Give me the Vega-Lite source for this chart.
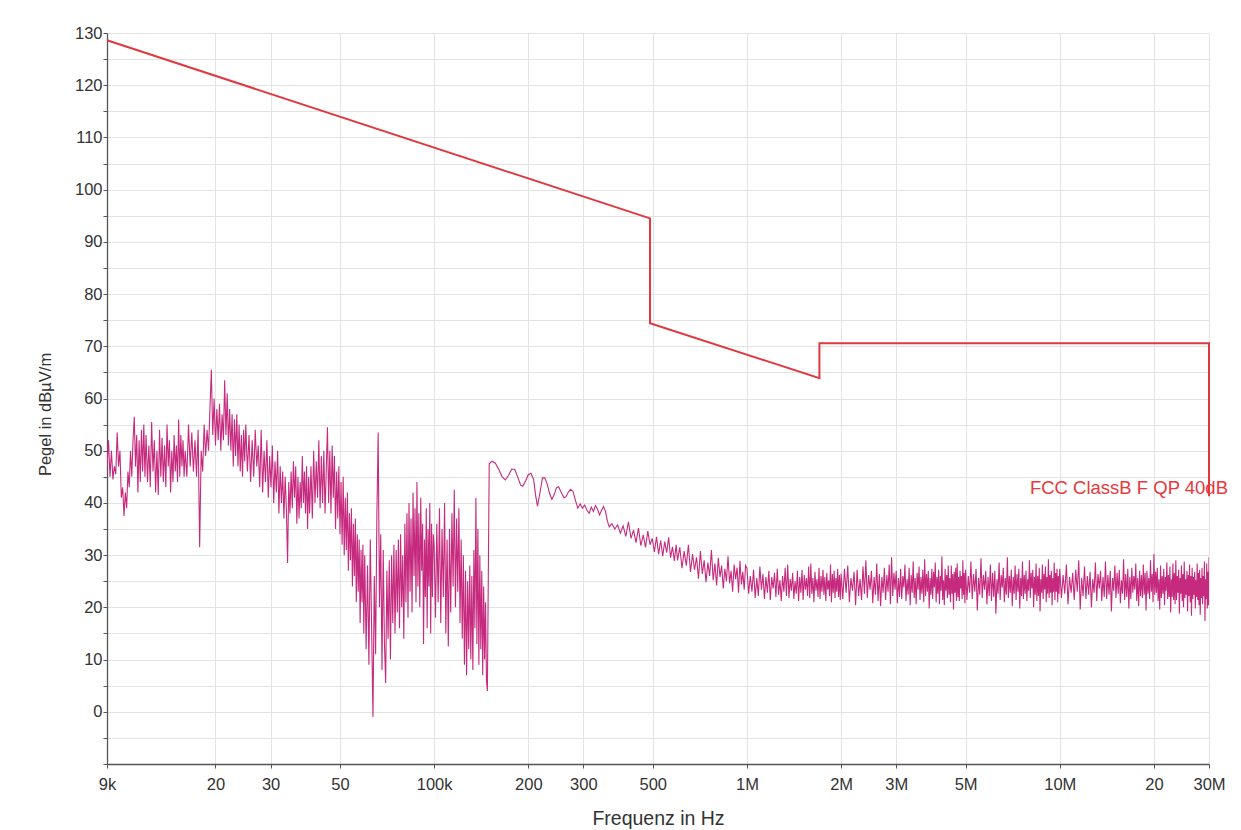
{
  "$schema": "https://vega.github.io/schema/vega-lite/v6.json",
  "width": 1102,
  "height": 731,
  "autosize": {"type": "none"},
  "padding": {"left": 107, "top": 33, "right": 32, "bottom": 66},
  "background": "white",
  "config": {"view": {"stroke": null}, "font": "Liberation Sans"},
  "datasets": {
    "meas": [
      {"f":9000,"v":47},{"f":9100,"v":52},{"f":9200,"v":45},{"f":9300,"v":50},{"f":9400,"v":44.5},{"f":9500,"v":47},{"f":9600,"v":45.5},{"f":9700,"v":53.5},{"f":9800,"v":47},{"f":9900,"v":50},{"f":10000,"v":41},{"f":10100,"v":43},{"f":10200,"v":37.5},{"f":10300,"v":42},{"f":10400,"v":39},{"f":10500,"v":46},{"f":10600,"v":43},{"f":10700,"v":50},{"f":10800,"v":45},{"f":10900,"v":52},{"f":11000,"v":56.5},{"f":11100,"v":47},{"f":11200,"v":53},{"f":11300,"v":42},{"f":11400,"v":52},{"f":11500,"v":44},{"f":11600,"v":54},{"f":11700,"v":46},{"f":11800,"v":55},{"f":11900,"v":45},
      {"f":12000,"v":53},{"f":12125,"v":44},{"f":12250,"v":51},{"f":12375,"v":43},{"f":12500,"v":55.5},{"f":12625,"v":46},{"f":12750,"v":52},{"f":12875,"v":42},{"f":13000,"v":50},{"f":13125,"v":41.5},{"f":13250,"v":54},{"f":13375,"v":45},{"f":13500,"v":52.5},{"f":13625,"v":44},{"f":13750,"v":51},{"f":13875,"v":43},{"f":14000,"v":55},{"f":14125,"v":47},{"f":14250,"v":52},{"f":14375,"v":42},{"f":14500,"v":50},{"f":14625,"v":44},{"f":14750,"v":53},{"f":14875,"v":46},{"f":15000,"v":51},{"f":15125,"v":44},{"f":15250,"v":56},{"f":15375,"v":45},{"f":15500,"v":53},{"f":15625,"v":47},{"f":15750,"v":52},{"f":15875,"v":45},
      {"f":16000,"v":50},{"f":16200,"v":45},{"f":16400,"v":55},{"f":16600,"v":47},{"f":16800,"v":53.5},{"f":17000,"v":46},{"f":17200,"v":52},{"f":17400,"v":45},{"f":17600,"v":54},{"f":17800,"v":31.5},{"f":18000,"v":50},{"f":18200,"v":46},{"f":18400,"v":55},{"f":18600,"v":49},{"f":18800,"v":54},{"f":19000,"v":50},{"f":19200,"v":58},{"f":19400,"v":65.5},{"f":19600,"v":53},{"f":19800,"v":60},{"f":20000,"v":51},{"f":20200,"v":58},{"f":20400,"v":52},{"f":20600,"v":59},{"f":20800,"v":50},{"f":21000,"v":57},{"f":21200,"v":52},{"f":21400,"v":63.5},{"f":21600,"v":53},{"f":21800,"v":61},{"f":22000,"v":51},{"f":22200,"v":58},{"f":22400,"v":50},{"f":22600,"v":57},{"f":22800,"v":47},{"f":23000,"v":56},{"f":23200,"v":49},{"f":23400,"v":57},{"f":23600,"v":47},{"f":23800,"v":55},{"f":24000,"v":46},{"f":24200,"v":53},{"f":24400,"v":45},{"f":24600,"v":54},{"f":24800,"v":48},
      {"f":25000,"v":55},{"f":25300,"v":46},{"f":25600,"v":53},{"f":25900,"v":44},{"f":26200,"v":52},{"f":26500,"v":45},{"f":26800,"v":54},{"f":27100,"v":47},{"f":27400,"v":51},{"f":27700,"v":43},{"f":28000,"v":54},{"f":28300,"v":42},{"f":28600,"v":50},{"f":28900,"v":44},{"f":29200,"v":52},{"f":29500,"v":41},{"f":29800,"v":49},{"f":30100,"v":43},{"f":30400,"v":51},{"f":30700,"v":40},{"f":31000,"v":48},{"f":31300,"v":42},{"f":31600,"v":50},{"f":31900,"v":38},{"f":32200,"v":47},{"f":32500,"v":40},{"f":32800,"v":46},{"f":33100,"v":37},{"f":33400,"v":45},{"f":33700,"v":39},{"f":34000,"v":28.5},{"f":34300,"v":44},{"f":34600,"v":38},{"f":34900,"v":46},{"f":35200,"v":39},{"f":35500,"v":48},{"f":35800,"v":41},{"f":36100,"v":47},{"f":36400,"v":36},{"f":36700,"v":45},{"f":37000,"v":37},{"f":37300,"v":44},{"f":37600,"v":39},{"f":37900,"v":49},{"f":38200,"v":40},{"f":38500,"v":46},{"f":38800,"v":38},{"f":39100,"v":47},{"f":39400,"v":35},{"f":39700,"v":45},
      {"f":40000,"v":38},{"f":40400,"v":47},{"f":40800,"v":37},{"f":41200,"v":50},{"f":41600,"v":40},{"f":42000,"v":48},{"f":42400,"v":41},{"f":42800,"v":52},{"f":43200,"v":39},{"f":43600,"v":49},{"f":44000,"v":40},{"f":44400,"v":50},{"f":44800,"v":38},
      {"f":45600,"v":54.5},{"f":46000,"v":40},{"f":46400,"v":50},{"f":46800,"v":38},{"f":47200,"v":51},{"f":47600,"v":41},{"f":48000,"v":49},{"f":48400,"v":35},{"f":48800,"v":46},{"f":49200,"v":37},{"f":49600,"v":47},{"f":50000,"v":34},{"f":50400,"v":44},{"f":50800,"v":32},{"f":51200,"v":45},{"f":51600,"v":30},{"f":52000,"v":41},{"f":52400,"v":31},{"f":52800,"v":42},{"f":53200,"v":27},{"f":53600,"v":38},{"f":54000,"v":29},{"f":54400,"v":39},{"f":54800,"v":24},{"f":55200,"v":36},{"f":55600,"v":26},{"f":56000,"v":37},{"f":56400,"v":21},{"f":56800,"v":34},{"f":57200,"v":23},{"f":57600,"v":33},{"f":58000,"v":17},{"f":58400,"v":31},{"f":58800,"v":21},{"f":59200,"v":32},{"f":59600,"v":15},
      {"f":60000,"v":30},{"f":60625,"v":12},{"f":61250,"v":28},{"f":61875,"v":9},{"f":62500,"v":33},{"f":63125,"v":16},{"f":63750,"v":-1},{"f":64375,"v":26},{"f":65000,"v":11},{"f":65625,"v":38},{"f":66250,"v":53.5},{"f":66875,"v":20},{"f":67500,"v":34},{"f":68125,"v":8},{"f":68750,"v":31},{"f":69375,"v":13},{"f":70000,"v":5.5},{"f":70625,"v":27},{"f":71250,"v":14},{"f":71875,"v":29},{"f":72500,"v":10},{"f":73125,"v":30},{"f":73750,"v":17},{"f":74375,"v":32},{"f":75000,"v":15},{"f":75625,"v":31},{"f":76250,"v":19},{"f":76875,"v":33},{"f":77500,"v":16},{"f":78125,"v":34},{"f":78750,"v":20},{"f":79375,"v":30},{"f":80000,"v":14},{"f":80625,"v":36},{"f":81250,"v":21},{"f":81875,"v":38},{"f":82500,"v":18},{"f":83125,"v":40},{"f":83750,"v":23},{"f":84375,"v":37},{"f":85000,"v":19},{"f":85625,"v":42},{"f":86250,"v":26},{"f":86875,"v":39},{"f":87500,"v":21},{"f":88125,"v":44},{"f":88750,"v":24},{"f":89375,"v":38},{"f":90000,"v":20},{"f":90625,"v":41},{"f":91250,"v":27},{"f":91875,"v":36},{"f":92500,"v":13},{"f":93125,"v":33},{"f":93750,"v":22},{"f":94375,"v":39},{"f":95000,"v":16},{"f":95625,"v":35},{"f":96250,"v":24},{"f":96875,"v":40},{"f":97500,"v":15},{"f":98125,"v":36},{"f":98750,"v":22},{"f":99375,"v":34},
      {"f":100000,"v":32},{"f":101000,"v":18},{"f":102000,"v":36},{"f":103000,"v":21},{"f":104000,"v":39},{"f":105000,"v":17},{"f":106000,"v":35},{"f":107000,"v":22},{"f":108000,"v":40},{"f":109000,"v":15},{"f":110000,"v":33},{"f":111000,"v":12.5},{"f":112000,"v":35},{"f":113000,"v":19},{"f":114000,"v":38},{"f":115000,"v":24},{"f":116000,"v":42.5},{"f":117000,"v":20},{"f":118000,"v":37},{"f":119000,"v":23},{"f":120000,"v":39},{"f":121000,"v":17},{"f":122000,"v":33},{"f":123000,"v":14},{"f":124000,"v":30},{"f":125000,"v":9},{"f":126000,"v":27},{"f":127000,"v":7},{"f":128000,"v":25},{"f":129000,"v":12},{"f":130000,"v":28},{"f":131000,"v":10},{"f":132000,"v":26},{"f":133000,"v":8},{"f":134000,"v":31},{"f":135000,"v":16},{"f":136000,"v":41},{"f":137000,"v":13},{"f":138000,"v":35},{"f":139000,"v":9},{"f":140000,"v":30},{"f":141000,"v":12},{"f":142000,"v":27},{"f":143000,"v":7},{"f":144000,"v":24},{"f":145000,"v":10},{"f":146000,"v":21},{"f":147000,"v":6},{"f":148000,"v":4},
      {"f":150000,"v":47.5},{"f":153000,"v":48},{"f":157000,"v":47.6},{"f":161000,"v":46.4},{"f":165000,"v":45},{"f":169000,"v":44.4},{"f":173000,"v":45.3},{"f":177000,"v":46.5},{"f":181000,"v":46.4},{"f":185000,"v":45},{"f":189000,"v":43.4},{"f":192000,"v":43.2},{"f":196000,"v":44.2},{"f":200000,"v":45.4},{"f":204000,"v":45.7},{"f":208000,"v":44.5},{"f":211000,"v":41.5},{"f":214000,"v":39.4},{"f":218000,"v":42},{"f":222000,"v":44.8},{"f":226000,"v":44.8},{"f":230000,"v":43.5},{"f":234000,"v":41.8},{"f":238000,"v":40.7},{"f":242000,"v":41.6},{"f":246000,"v":42.9},{"f":250000,"v":43.1},{"f":255000,"v":42},{"f":260000,"v":41},{"f":264000,"v":41.2},{"f":268000,"v":42},{"f":273000,"v":42.6},{"f":278000,"v":42.2},{"f":283000,"v":40.5},{"f":288000,"v":39},{"f":293000,"v":39.8},{"f":298000,"v":39},{"f":303000,"v":39.6},{"f":308000,"v":38.6},{"f":313000,"v":38},{"f":318000,"v":39.2},{"f":323000,"v":38.4},{"f":328000,"v":39.5},{"f":333000,"v":38.8},{"f":338000,"v":37.7},{"f":343000,"v":38.6},{"f":348000,"v":39.3},{"f":353000,"v":38.4},{"f":358000,"v":36.5},{"f":363000,"v":35.4},
      {"f":370000,"v":36},{"f":378000,"v":35},{"f":386000,"v":35.8},{"f":394000,"v":34.2},{"f":402000,"v":35.6},{"f":410000,"v":33.6},{"f":418000,"v":36.4},{"f":426000,"v":33.2},{"f":434000,"v":34.8},{"f":442000,"v":32.4},{"f":450000,"v":35.2},{"f":458000,"v":31.8},{"f":466000,"v":33.9},{"f":474000,"v":31.5},{"f":482000,"v":34.6},{"f":490000,"v":32},{"f":498000,"v":33.2},{"f":506000,"v":30.6},{"f":514000,"v":33.5},{"f":522000,"v":30.2},{"f":530000,"v":32.8},{"f":538000,"v":29.8},{"f":546000,"v":32.6},{"f":554000,"v":30.5},{"f":562000,"v":33.4},{"f":570000,"v":29.5},{"f":578000,"v":31.6},{"f":586000,"v":28.9},{"f":594000,"v":32},
      {"f":600000,"v":29},{"f":610000,"v":31.5},{"f":620000,"v":27.5},{"f":630000,"v":30.8},{"f":640000,"v":28},{"f":650000,"v":32},{"f":660000,"v":26.8},{"f":670000,"v":30.2},{"f":680000,"v":27.2},{"f":690000,"v":29.6},{"f":700000,"v":25.5},{"f":710000,"v":30.8},{"f":720000,"v":26.4},{"f":730000,"v":29},{"f":740000,"v":24.8},{"f":750000,"v":28.6},{"f":760000,"v":26},{"f":770000,"v":31},{"f":780000,"v":25.2},{"f":790000,"v":28.4},{"f":800000,"v":24.2},{"f":810000,"v":29.5},{"f":820000,"v":25.8},{"f":830000,"v":28},{"f":840000,"v":23.6},{"f":850000,"v":27.4},{"f":860000,"v":25},{"f":870000,"v":29.8},{"f":880000,"v":24.6},{"f":890000,"v":27},{"f":900000,"v":23},{"f":910000,"v":28.2},{"f":920000,"v":25.4},{"f":930000,"v":27.6},{"f":940000,"v":22.8},{"f":950000,"v":28.9},{"f":960000,"v":24.4},{"f":970000,"v":26.8},{"f":980000,"v":23.4},{"f":990000,"v":28},
      {"f":1000000,"v":27.5},{"f":1012500,"v":22.6},{"f":1025000,"v":26},{"f":1037500,"v":23},{"f":1050000,"v":27.2},{"f":1062500,"v":21.8},{"f":1075000,"v":25.6},{"f":1087500,"v":22.2},{"f":1100000,"v":27.8},{"f":1112500,"v":23.4},{"f":1125000,"v":26.4},{"f":1137500,"v":21.6},{"f":1150000,"v":25.8},{"f":1162500,"v":22.8},{"f":1175000,"v":27},{"f":1187500,"v":21.4},{"f":1200000,"v":25.8},{"f":1212500,"v":23.6},{"f":1225000,"v":26.6},{"f":1237500,"v":22},{"f":1250000,"v":27.4},{"f":1262500,"v":22.4},{"f":1275000,"v":25.2},{"f":1287500,"v":21.2},{"f":1300000,"v":26},{"f":1312500,"v":23},{"f":1325000,"v":27.6},{"f":1337500,"v":22.2},{"f":1350000,"v":28.2},{"f":1362500,"v":21.8},{"f":1375000,"v":25.4},{"f":1387500,"v":23.2},{"f":1400000,"v":26.6},{"f":1412500,"v":21.6},{"f":1425000,"v":25},{"f":1437500,"v":22.6},{"f":1450000,"v":27},{"f":1462500,"v":21.2},{"f":1475000,"v":25.8},{"f":1487500,"v":22.8},{"f":1500000,"v":27.2},{"f":1512500,"v":21.4},{"f":1525000,"v":26.2},{"f":1537500,"v":23.4},{"f":1550000,"v":25.6},{"f":1562500,"v":22.2},{"f":1575000,"v":27.8},{"f":1587500,"v":21.8},{"f":1600000,"v":28.4},{"f":1612500,"v":22.6},{"f":1625000,"v":25.6},{"f":1637500,"v":21},{"f":1650000,"v":26.8},{"f":1662500,"v":23.2},{"f":1675000,"v":25.4},{"f":1687500,"v":22},{"f":1700000,"v":27.6},{"f":1712500,"v":21.6},{"f":1725000,"v":26},{"f":1737500,"v":23},{"f":1750000,"v":27.2},{"f":1762500,"v":22.4},{"f":1775000,"v":25.8},{"f":1787500,"v":21.2},{"f":1800000,"v":26.6},{"f":1812500,"v":23.4},{"f":1825000,"v":25.2},{"f":1837500,"v":22.2},{"f":1850000,"v":28.2},{"f":1862500,"v":21},{"f":1875000,"v":26.4},{"f":1887500,"v":22.8},{"f":1900000,"v":27},{"f":1912500,"v":21.8},{"f":1925000,"v":25.6},{"f":1937500,"v":23},{"f":1950000,"v":27.4},{"f":1962500,"v":22},{"f":1975000,"v":26.2},{"f":1987500,"v":21.4},
      {"f":2000000,"v":26.5},{"f":2025000,"v":21.6},{"f":2050000,"v":27.4},{"f":2075000,"v":22.8},{"f":2100000,"v":28},{"f":2125000,"v":21},{"f":2150000,"v":25.6},{"f":2175000,"v":23.2},{"f":2200000,"v":26.8},{"f":2225000,"v":20.4},
      {"f":2250000,"v":27.2},{"f":2275000,"v":22.2},{"f":2300000,"v":25.4},{"f":2325000,"v":21.4},{"f":2350000,"v":27.8},{"f":2375000,"v":22.6},{"f":2400000,"v":29},{"f":2425000,"v":21.8},{"f":2450000,"v":26.2},{"f":2475000,"v":23.4},
      {"f":2500000,"v":27},{"f":2525000,"v":20.8},{"f":2550000,"v":25.8},{"f":2575000,"v":22.4},{"f":2600000,"v":28.4},{"f":2625000,"v":21.2},{"f":2650000,"v":26.4},{"f":2675000,"v":20.2},{"f":2700000,"v":25.8},{"f":2725000,"v":22.8},
      {"f":2750000,"v":27.6},{"f":2775000,"v":21.4},{"f":2800000,"v":26.2},{"f":2825000,"v":23},{"f":2850000,"v":28.2},{"f":2875000,"v":20.6},{"f":2900000,"v":29.6},{"f":2925000,"v":22.2},{"f":2950000,"v":26.6},{"f":2975000,"v":23.4},
      {"f":3000000,"v":27},{"f":3025000,"v":20.8},{"f":3050000,"v":25.6},{"f":3075000,"v":22},{"f":3100000,"v":27.4},{"f":3125000,"v":21.6},{"f":3150000,"v":26},{"f":3175000,"v":23.8},{"f":3200000,"v":28.2},{"f":3225000,"v":21.2},
      {"f":3250000,"v":25.4},{"f":3275000,"v":22.4},{"f":3300000,"v":27.6},{"f":3325000,"v":20.4},{"f":3350000,"v":26.2},{"f":3375000,"v":22.8},{"f":3400000,"v":28.8},{"f":3425000,"v":21.8},{"f":3450000,"v":25.6},{"f":3475000,"v":20.6},
      {"f":3500000,"v":26.6},{"f":3525000,"v":23.4},{"f":3550000,"v":27.8},{"f":3575000,"v":21.4},{"f":3600000,"v":25.8},{"f":3625000,"v":22.6},{"f":3650000,"v":27.2},{"f":3675000,"v":21},{"f":3700000,"v":29.2},{"f":3725000,"v":22.2},
      {"f":3750000,"v":26.4},{"f":3775000,"v":23},{"f":3800000,"v":27},{"f":3825000,"v":19.8},{"f":3850000,"v":25.6},{"f":3875000,"v":22.4},{"f":3900000,"v":27.4},{"f":3925000,"v":21.6},{"f":3950000,"v":26.8},{"f":3975000,"v":23.8},
      {"f":4000000,"v":28.6},{"f":4025000,"v":21},{"f":4050000,"v":25.8},{"f":4075000,"v":22.6},{"f":4100000,"v":27.2},{"f":4125000,"v":20.6},{"f":4150000,"v":26},{"f":4175000,"v":23.2},{"f":4200000,"v":29.8},{"f":4225000,"v":21.4},
      {"f":4250000,"v":25.2},{"f":4275000,"v":20.4},{"f":4300000,"v":27.4},{"f":4325000,"v":23.2},{"f":4350000,"v":26.2},{"f":4375000,"v":21.8},{"f":4400000,"v":28},{"f":4425000,"v":22.4},{"f":4450000,"v":25.6},{"f":4475000,"v":21},
      {"f":4500000,"v":28},{"f":4525000,"v":22.6},{"f":4550000,"v":26.4},{"f":4575000,"v":19.6},{"f":4600000,"v":26.8},{"f":4625000,"v":22.8},{"f":4650000,"v":27.6},{"f":4675000,"v":21.2},{"f":4700000,"v":28.4},{"f":4725000,"v":22},
      {"f":4750000,"v":25.8},{"f":4775000,"v":21.2},{"f":4800000,"v":27},{"f":4825000,"v":23.6},{"f":4850000,"v":26},{"f":4875000,"v":21.6},{"f":4900000,"v":29},{"f":4925000,"v":22.4},{"f":4950000,"v":26.6},{"f":4975000,"v":20.8},
      {"f":5000000,"v":27.2},{"f":5050000,"v":21.4},{"f":5100000,"v":26},{"f":5150000,"v":22.8},{"f":5200000,"v":28.8},{"f":5250000,"v":21.6},{"f":5300000,"v":26.4},{"f":5350000,"v":23},{"f":5400000,"v":27.4},{"f":5450000,"v":19.4},
      {"f":5500000,"v":25.6},{"f":5550000,"v":22.4},{"f":5600000,"v":29.4},{"f":5650000,"v":21.8},{"f":5700000,"v":26.2},{"f":5750000,"v":23.4},{"f":5800000,"v":27},{"f":5850000,"v":20.6},{"f":5900000,"v":25.8},{"f":5950000,"v":22.2},
      {"f":6000000,"v":28.2},{"f":6050000,"v":21.2},{"f":6100000,"v":26.6},{"f":6150000,"v":22},{"f":6200000,"v":27},{"f":6250000,"v":18.8},{"f":6300000,"v":25.4},{"f":6350000,"v":22.6},{"f":6400000,"v":28.6},{"f":6450000,"v":21.4},
      {"f":6500000,"v":26.2},{"f":6550000,"v":23.8},{"f":6600000,"v":27.6},{"f":6650000,"v":21},{"f":6700000,"v":25.6},{"f":6750000,"v":22.4},{"f":6800000,"v":29.6},{"f":6850000,"v":21.8},{"f":6900000,"v":26},{"f":6950000,"v":22.8},
      {"f":7000000,"v":27.2},{"f":7050000,"v":20.2},{"f":7100000,"v":25.8},{"f":7150000,"v":22.6},{"f":7200000,"v":28},{"f":7250000,"v":21.4},{"f":7300000,"v":26.4},{"f":7350000,"v":23},{"f":7400000,"v":27.4},{"f":7450000,"v":19.8},
      {"f":7500000,"v":25.6},{"f":7550000,"v":22.2},{"f":7600000,"v":28.8},{"f":7650000,"v":21.6},{"f":7700000,"v":26.2},{"f":7750000,"v":22.6},{"f":7800000,"v":27},{"f":7850000,"v":21.2},{"f":7900000,"v":25.4},{"f":7950000,"v":23.2},
      {"f":8000000,"v":29},{"f":8050000,"v":21.8},{"f":8100000,"v":26.6},{"f":8150000,"v":23.6},{"f":8200000,"v":27.2},{"f":8250000,"v":20},{"f":8300000,"v":25.8},{"f":8350000,"v":22.4},{"f":8400000,"v":28.4},{"f":8450000,"v":21.2},
      {"f":8500000,"v":26},{"f":8550000,"v":22.2},{"f":8600000,"v":27.6},{"f":8650000,"v":19.2},{"f":8700000,"v":25.4},{"f":8750000,"v":22.8},{"f":8800000,"v":28.2},{"f":8850000,"v":21.6},{"f":8900000,"v":26.4},{"f":8950000,"v":23.4},
      {"f":9000000,"v":27.8},{"f":9050000,"v":21},{"f":9100000,"v":25.8},{"f":9150000,"v":22.6},{"f":9200000,"v":29.2},{"f":9250000,"v":21.8},{"f":9300000,"v":26.2},{"f":9350000,"v":22.8},{"f":9400000,"v":27},{"f":9450000,"v":20.4},
      {"f":9500000,"v":25.6},{"f":9550000,"v":23},{"f":9600000,"v":28.6},{"f":9650000,"v":21.4},{"f":9700000,"v":26.6},{"f":9750000,"v":23},{"f":9800000,"v":27.4},{"f":9850000,"v":21},{"f":9900000,"v":26},{"f":9950000,"v":22.6},
      {"f":10000000,"v":27.4},{"f":10125000,"v":21.8},{"f":10250000,"v":26.2},{"f":10375000,"v":22.6},{"f":10500000,"v":28.2},{"f":10625000,"v":20.6},{"f":10750000,"v":25.8},{"f":10875000,"v":22.8},{"f":11000000,"v":26.6},{"f":11125000,"v":21.4},
      {"f":11250000,"v":27.2},{"f":11375000,"v":23},{"f":11500000,"v":29},{"f":11625000,"v":19.6},{"f":11750000,"v":25.6},{"f":11875000,"v":22.2},{"f":12000000,"v":27.8},{"f":12125000,"v":21.6},{"f":12250000,"v":26},{"f":12375000,"v":22.4},
      {"f":12500000,"v":26.8},{"f":12625000,"v":20},{"f":12750000,"v":25.4},{"f":12875000,"v":22.8},{"f":13000000,"v":28.6},{"f":13125000,"v":21.2},{"f":13250000,"v":26.4},{"f":13375000,"v":23.6},{"f":13500000,"v":27},{"f":13625000,"v":21.2},
      {"f":13750000,"v":25.8},{"f":13875000,"v":22},{"f":14000000,"v":28.8},{"f":14125000,"v":21.6},{"f":14250000,"v":26.2},{"f":14375000,"v":22.4},{"f":14500000,"v":27},{"f":14625000,"v":19.2},{"f":14750000,"v":25.6},{"f":14875000,"v":23.2},
      {"f":15000000,"v":28},{"f":15125000,"v":21.8},{"f":15250000,"v":26.6},{"f":15375000,"v":22.6},{"f":15500000,"v":27.2},{"f":15625000,"v":20.8},{"f":15750000,"v":25.2},{"f":15875000,"v":22.6},{"f":16000000,"v":29.2},{"f":16125000,"v":21.4},
      {"f":16250000,"v":26.4},{"f":16375000,"v":22},{"f":16500000,"v":27.4},{"f":16625000,"v":19.8},{"f":16750000,"v":25.8},{"f":16875000,"v":21.6},{"f":17000000,"v":27.6},{"f":17125000,"v":22.8},{"f":17250000,"v":26},{"f":17375000,"v":23.4},
      {"f":17500000,"v":28.4},{"f":17625000,"v":21.2},{"f":17750000,"v":25.6},{"f":17875000,"v":20.2},{"f":18000000,"v":27},{"f":18125000,"v":22.2},{"f":18250000,"v":26.2},{"f":18375000,"v":21.8},{"f":18500000,"v":28.2},{"f":18625000,"v":22.4},
      {"f":18750000,"v":26.6},{"f":18875000,"v":19.4},{"f":19000000,"v":27},{"f":19125000,"v":22.6},{"f":19250000,"v":25.6},{"f":19375000,"v":21.6},{"f":19500000,"v":29},{"f":19625000,"v":23},{"f":19750000,"v":26.4},{"f":19875000,"v":21},
      {"f":20000000,"v":30.2},{"f":20125000,"v":22.4},{"f":20250000,"v":26.8},{"f":20375000,"v":22.8},{"f":20500000,"v":27.6},{"f":20625000,"v":21.2},{"f":20750000,"v":25.4},{"f":20875000,"v":19.6},{"f":21000000,"v":28},{"f":21125000,"v":21.8},
      {"f":21250000,"v":26},{"f":21375000,"v":22.6},{"f":21500000,"v":27.4},{"f":21625000,"v":20.4},{"f":21750000,"v":25.8},{"f":21875000,"v":23.2},{"f":22000000,"v":28.6},{"f":22125000,"v":21.6},{"f":22250000,"v":26.2},{"f":22375000,"v":22},
      {"f":22500000,"v":27.8},{"f":22625000,"v":19},{"f":22750000,"v":25.4},{"f":22875000,"v":22},{"f":23000000,"v":28.4},{"f":23125000,"v":21.4},{"f":23250000,"v":26.6},{"f":23375000,"v":20.6},{"f":23500000,"v":29},{"f":23625000,"v":21.4},
      {"f":23750000,"v":26},{"f":23875000,"v":22.8},{"f":24000000,"v":27.2},{"f":24125000,"v":18.8},{"f":24250000,"v":25.6},{"f":24375000,"v":22.6},{"f":24500000,"v":28},{"f":24625000,"v":21.2},{"f":24750000,"v":26.4},{"f":24875000,"v":20},
      {"f":25000000,"v":28.8},{"f":25125000,"v":21.8},{"f":25250000,"v":25.4},{"f":25375000,"v":22.4},{"f":25500000,"v":27},{"f":25625000,"v":19.2},{"f":25750000,"v":26.2},{"f":25875000,"v":22.2},{"f":26000000,"v":28.2},{"f":26125000,"v":21},
      {"f":26250000,"v":26},{"f":26375000,"v":18.4},{"f":26500000,"v":27.6},{"f":26625000,"v":21.6},{"f":26750000,"v":25.8},{"f":26875000,"v":22.4},{"f":27000000,"v":26.8},{"f":27125000,"v":19.8},{"f":27250000,"v":25.2},{"f":27375000,"v":22},
      {"f":27500000,"v":28.4},{"f":27625000,"v":21.4},{"f":27750000,"v":26.6},{"f":27875000,"v":20.4},{"f":28000000,"v":27.2},{"f":28125000,"v":18.6},{"f":28250000,"v":25.6},{"f":28375000,"v":21.8},{"f":28500000,"v":27.6},{"f":28625000,"v":20.6},
      {"f":28750000,"v":26},{"f":28875000,"v":22.2},{"f":29000000,"v":28.8},{"f":29125000,"v":17.4},{"f":29250000,"v":25.4},{"f":29375000,"v":21.6},{"f":29500000,"v":28.4},{"f":29625000,"v":19.8},{"f":29750000,"v":26.8},{"f":29875000,"v":20.4},{"f":30000000,"v":29.6}
    ],
    "lim": [
      {"i":0,"f":9000,"v":128.6},
      {"i":1,"f":490000,"v":94.5},
      {"i":2,"f":490000,"v":74.4},
      {"i":3,"f":1705000,"v":63.9},
      {"i":4,"f":1705000,"v":70.6},
      {"i":5,"f":30000000,"v":70.6},
      {"i":6,"f":30000000,"v":41.3}
    ],
    "lab": [
      {"f":30000000,"v":42.9,"t":"FCC ClassB F QP 40dB"}
    ]
  },
  "encoding": {
    "x": {
      "field": "f", "type": "quantitative",
      "scale": {"type": "log", "domain": [9000, 30000000], "nice": false},
      "axis": {
        "values": [9000, 20000, 30000, 50000, 100000, 200000, 300000, 500000, 1000000, 2000000, 3000000, 5000000, 10000000, 20000000, 30000000],
        "labelExpr": "datum.value == 9000 ? '9k' : datum.value == 100000 ? '100k' : datum.value == 1000000 ? '1M' : datum.value == 2000000 ? '2M' : datum.value == 3000000 ? '3M' : datum.value == 5000000 ? '5M' : datum.value == 10000000 ? '10M' : datum.value == 30000000 ? '30M' : datum.value >= 10000000 ? format(datum.value / 1000000, 'd') : format(datum.value / 1000, 'd')",
        "labelOverlap": false, "labelFlush": false, "labelBound": false,
        "labelFont": "Liberation Sans", "labelFontSize": 16.5, "labelColor": "#333333",
        "labelPadding": 8, "tickSize": 4, "tickColor": "#555555",
        "domainColor": "#555555", "domainWidth": 1.3,
        "grid": true, "gridColor": "#e3e3e3", "gridWidth": 1,
        "title": "Frequenz in Hz", "titleFont": "Liberation Sans", "titleFontSize": 19.5, "titleFontWeight": "normal", "titleColor": "#333333",
        "titleY": 54, "titleBaseline": "middle"
      }
    },
    "y": {
      "field": "v", "type": "quantitative",
      "scale": {"domain": [-10, 130], "nice": false, "zero": false},
      "axis": {
        "values": [-10,-5,0,5,10,15,20,25,30,35,40,45,50,55,60,65,70,75,80,85,90,95,100,105,110,115,120,125,130],
        "labelExpr": "datum.value >= 0 && datum.value % 10 == 0 ? datum.value : ''",
        "labelFont": "Liberation Sans", "labelFontSize": 16.5, "labelColor": "#333333",
        "labelPadding": 1, "tickSize": 4, "tickColor": "#555555",
        "domainColor": "#555555", "domainWidth": 1.3,
        "grid": true, "gridColor": "#e3e3e3", "gridWidth": 1,
        "labelOverlap": false, "labelFlush": false, "labelBound": false,
        "title": "Pegel in dBµV/m", "titleFont": "Liberation Sans", "titleFontSize": 16.5, "titleFontWeight": "normal", "titleColor": "#333333",
        "titleX": -62, "titleY": 381, "titleAngle": -90, "titleAlign": "center", "titleBaseline": "middle"
      }
    }
  },
  "layer": [
    {
      "data": {"name": "meas"},
      "mark": {"type": "line", "color": "#c62a7e", "strokeWidth": 1.1, "clip": true}
    },
    {
      "data": {"name": "lim"},
      "mark": {"type": "line", "color": "#e0383e", "strokeWidth": 2},
      "encoding": {"order": {"field": "i", "type": "quantitative"}}
    },
    {
      "data": {"name": "lab"},
      "mark": {"type": "text", "color": "#e8383d", "font": "Liberation Sans", "fontSize": 18.5, "align": "right", "baseline": "middle", "dx": 19},
      "encoding": {"text": {"field": "t"}}
    }
  ]
}
